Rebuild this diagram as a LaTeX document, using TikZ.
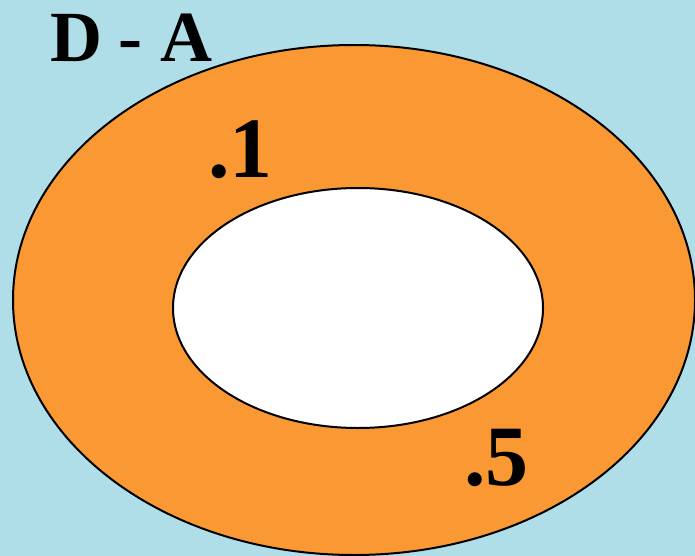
\documentclass[tikz,border=0pt]{standalone}
\usepackage{fontspec}
\setmainfont{Liberation Serif}
\usetikzlibrary{shapes.geometric}
\definecolor{bgblue}{RGB}{176,222,232}
\definecolor{ringorange}{RGB}{250,153,52}
\begin{document}
\begin{tikzpicture}[x=1pt,y=-1pt,
  ring/.style={draw=black,line width=2pt},
  lbl/.style={anchor=base west,inner sep=0pt,font=\bfseries}]
\useasboundingbox (0,0) rectangle (695,556);
\fill[bgblue] (0,0) rectangle (695,556);
\node[ring,fill=ringorange,ellipse,minimum width=682pt,minimum height=510pt,inner sep=0pt] (outer) at (354,300) {};
\node[ring,fill=white,ellipse,minimum width=370pt,minimum height=240pt,inner sep=0pt] (inner) at (358,308) {};
\node[lbl,font=\fontsize{72}{72}\selectfont\bfseries] (da) at (50,62) {D\kern-2pt{} - A};
\node[lbl,font=\fontsize{86}{86}\selectfont\bfseries] (p1) at (208,177) {.1};
\node[lbl,font=\fontsize{86}{86}\selectfont\bfseries] (p5) at (464,485) {.5};
\end{tikzpicture}
\end{document}
